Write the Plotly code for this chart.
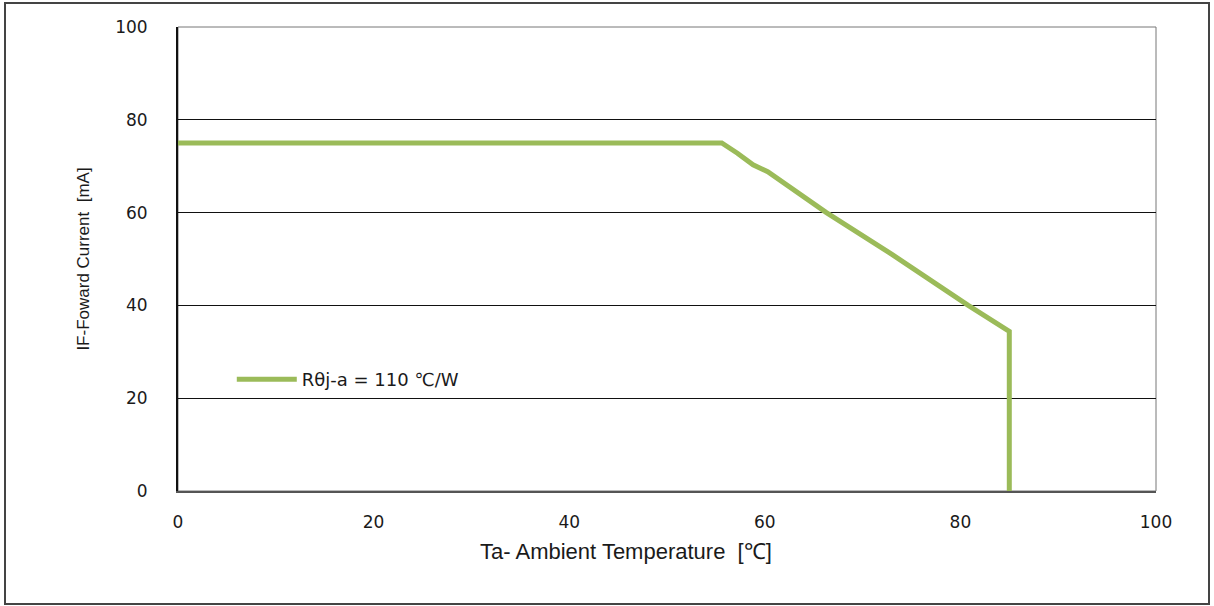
import plotly.graph_objects as go

temp = [0, 55.6, 57.2, 58.8, 60.3, 66.3, 73.0, 80.8, 85.0, 85.0]
current = [75, 75, 72.8, 70.3, 68.8, 60.0, 51.0, 40.0, 34.4, 0]
series_name = "Rθj-a = 110 ℃/W"
x_title = "Ta- Ambient Temperature  [℃]"
y_title = "IF-Foward Current  [mA]"
x_ticks = [0, 20, 40, 60, 80, 100]
y_ticks = [0, 20, 40, 60, 80, 100]

fig = go.Figure()
fig.add_trace(go.Scatter(
    x=temp, y=current, mode="lines", name=series_name,
    line=dict(color="#9BBB59", width=5),
))

fig.update_layout(
    width=1214, height=606,
    margin=dict(l=178, r=58, t=27, b=115),
    paper_bgcolor="white", plot_bgcolor="white",
    showlegend=True,
    legend=dict(x=0.055, y=0.24, xanchor="left", yanchor="middle",
                bgcolor="rgba(0,0,0,0)", itemwidth=60,
                font=dict(family="DejaVu Sans", size=18, color="#1a1a1a")),
    font=dict(family="DejaVu Sans", size=17, color="#1a1a1a"),
)
fig.update_xaxes(
    range=[0, 100], tickvals=x_ticks, ticktext=[str(v) for v in x_ticks],
    showgrid=False, zeroline=False,
    showline=True, linecolor="#555", linewidth=2, mirror=False,
    ticks="outside", ticklen=15, tickcolor="rgba(0,0,0,0)",
    tickfont=dict(family="DejaVu Sans", size=17, color="#1a1a1a"),
)
fig.update_yaxes(
    range=[0, 100], tickvals=y_ticks, ticktext=[str(v) for v in y_ticks],
    showgrid=True, gridcolor="#111", gridwidth=1, zeroline=False,
    showline=True, linecolor="#111", linewidth=2,
    ticks="outside", ticklen=25, tickcolor="rgba(0,0,0,0)",
    tickfont=dict(family="DejaVu Sans", size=17, color="#1a1a1a"),
    title=dict(text=y_title,
               font=dict(family="Liberation Sans", size=17, color="#1a1a1a"), standoff=21),
)
fig.add_annotation(text=x_title, xref="paper", yref="paper",
                   x=(626 - 178) / 978, y=(491 - 551) / 464,
                   xanchor="center", yanchor="middle", showarrow=False,
                   font=dict(family="Liberation Sans", size=22, color="#1a1a1a"))
# plot-area frame top/right
fig.add_shape(type="rect", xref="paper", yref="paper", x0=0, x1=1, y0=0, y1=1,
              line=dict(color="#777", width=1), layer="below")
# outer chart border
fig.add_shape(type="rect", xref="paper", yref="paper",
              x0=(5 - 178) / 978, x1=(1209 - 178) / 978,
              y0=(491 - 604) / 464, y1=(491 - 3) / 464,
              line=dict(color="#444", width=2))

fig.write_html("out.html", config={"displayModeBar": False},
               post_script="document.body.style.margin='0px';document.body.style.overflow='hidden';")
